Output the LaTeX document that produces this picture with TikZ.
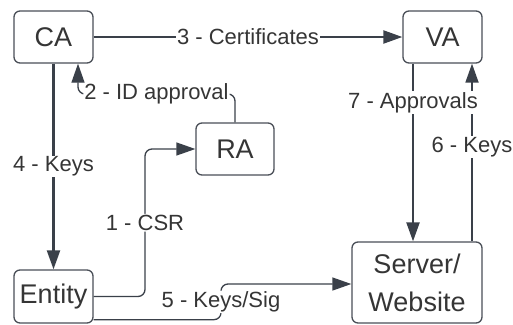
\documentclass[tikz,border=0pt]{standalone}
\usepackage{fontspec}
\setmainfont{Liberation Sans}
\usetikzlibrary{arrows.meta,calc}
\definecolor{linec}{HTML}{3A4049}
\definecolor{boxc}{HTML}{4A4F57}
\definecolor{txtc}{HTML}{353535}
\begin{document}
\begin{tikzpicture}[x=1pt,y=-1pt,
  box/.style={draw=boxc,line width=1.3pt,rounded corners=6pt,inner sep=0pt,
    text=txtc,font=\fontsize{27}{38}\selectfont,align=center},
  lbl/.style={fill=white,inner sep=1pt,text=txtc,font=\fontsize{22}{26}\selectfont},
  thickarrow/.style={draw=linec,line width=2.2pt,-{Triangle[length=19pt,width=13pt]}},
  thinarrow/.style={draw=linec,line width=1.3pt,rounded corners=7pt,-{Triangle[length=19pt,width=13pt]}}]
\useasboundingbox (0,0) rectangle (513,324);
\node[box,minimum width=79pt,minimum height=52pt] (CA) at (53.5,37) {CA};
\node[box,minimum width=79pt,minimum height=52pt] (VA) at (442.5,37) {VA};
\node[box,minimum width=78pt,minimum height=52pt] (RA) at (235,149) {RA};
\node[box,minimum width=79pt,minimum height=53pt] (Entity) at (53.5,296.5) {Entity};
\node[box,minimum width=130pt,minimum height=81pt] (Server) at (417,282.5) {Server/\\Website};
\coordinate (c1) at (145,222);
\coordinate (c2) at (78,94);
\coordinate (c5) at (221,302);
\coordinate (c7) at (413,102);
\coordinate (c6) at (472,147);
% 3 - Certificates
\draw[thickarrow] (CA.east) -- node[lbl] (l3) {3 - Certificates} (CA.east -| VA.west);
% 4 - Keys
\draw[thickarrow] (CA.south) -- node[lbl] (l4) {4 - Keys} (Entity.north);
% 1 - CSR
\draw[thinarrow] (Entity.east) -- (Entity.east -| c1) -- node[lbl] (l1) {1 - CSR} (c1 |- RA.west) -- (RA.west);
% 2 - ID approval
\draw[thinarrow] (RA.north) -- (RA.north |- c2) -- node[lbl] (l2) {2 - ID approval} (c2) -- (c2 |- CA.south);
% 5 - Keys/Sig
\draw[thinarrow] ([yshift=4pt]Entity.south east) -- ([yshift=4pt]Entity.south east -| c5) -- node[lbl] (l5) {5 - Keys/Sig} ($(c5 |- Server.west)+(0,1.5)$) -- ($(Server.west)+(0,1.5)$);
% 6 - Keys
\draw[thickarrow,line width=1.8pt] (c6 |- Server.north) -- node[lbl,pos=0.53] (l6) {6 - Keys} (c6 |- VA.south);
% 7 - Approvals
\draw[thickarrow] (c7 |- VA.south) -- node[lbl,pos=0.22] (l7) {7 - Approvals} (c7 |- Server.north);
\end{tikzpicture}
\end{document}
